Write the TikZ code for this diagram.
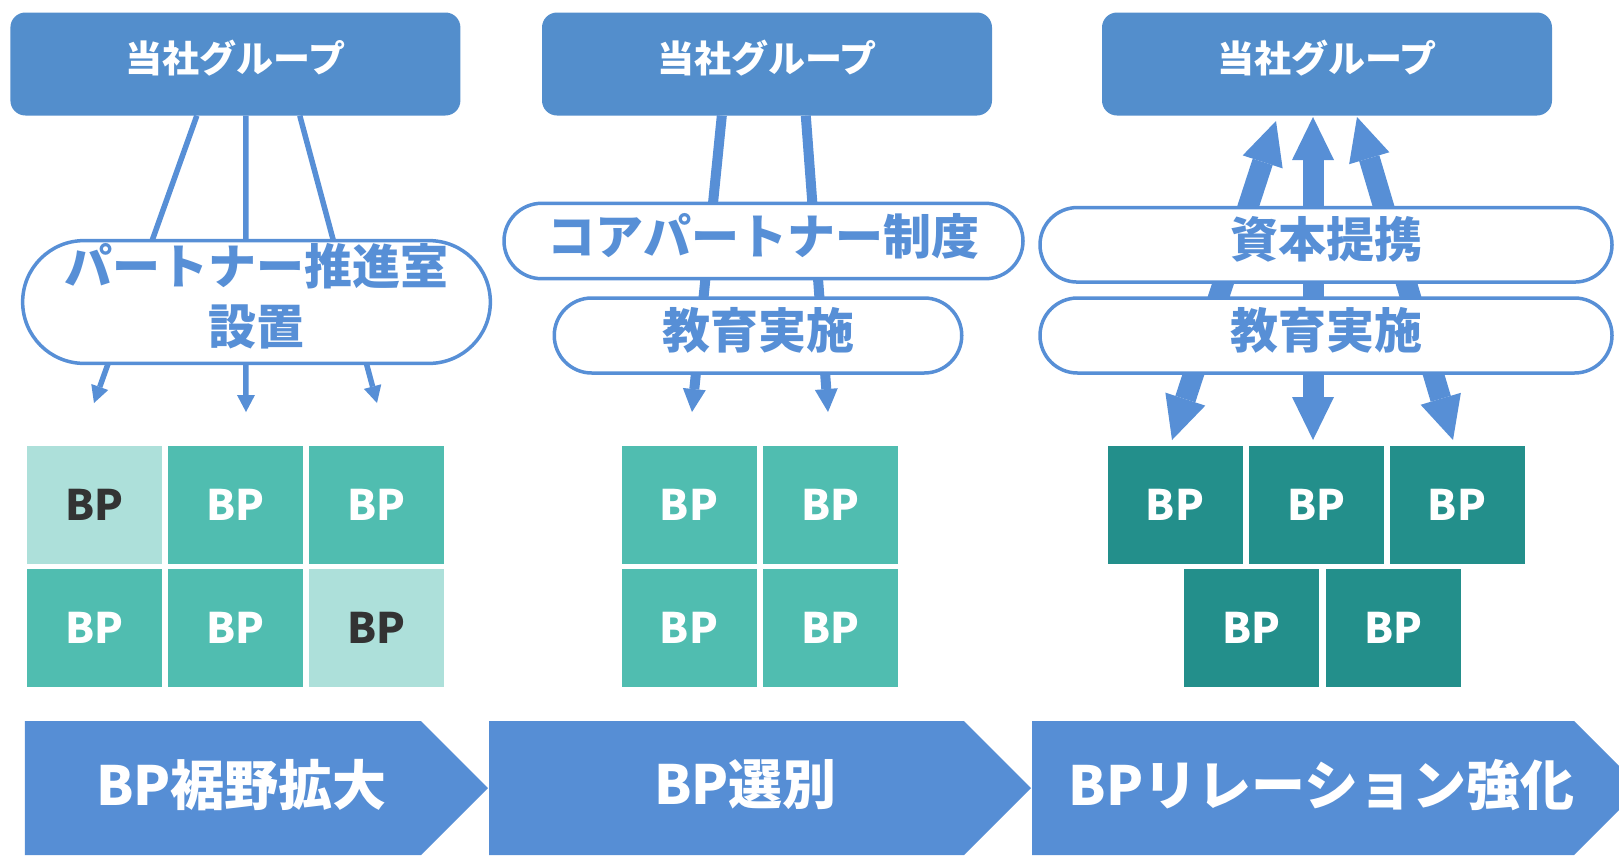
\documentclass[tikz,border=0pt]{standalone}
\usepackage{fontspec}
\setmainfont{Noto Sans CJK JP}
\usetikzlibrary{arrows.meta,shapes.misc,calc}
\definecolor{topblue}{RGB}{83,142,204}
\definecolor{lblue}{RGB}{87,143,214}
\definecolor{chev}{RGB}{86,142,213}
\definecolor{tealm}{RGB}{80,189,176}
\definecolor{teall}{RGB}{173,224,218}
\definecolor{teald}{RGB}{35,143,139}
\definecolor{dtext}{RGB}{51,51,51}
\begin{document}
\begin{tikzpicture}[x=1pt,y=-1pt,
  topbox/.style={fill=topblue, rounded corners=15pt, minimum width=450pt, minimum height=103pt, inner sep=0pt},
  toptext/.style={text=white, font=\fontsize{37}{44}\selectfont\bfseries, inner sep=0pt},
  stad/.style={rounded rectangle, draw=lblue, line width=3.5pt, fill=white, inner sep=0pt},
  stxt/.style={text=lblue, font=\fontsize{48}{60}\selectfont\bfseries, inner sep=0pt, align=center},
  bpbox/.style={minimum width=135pt, minimum height=118pt, inner sep=0pt, font=\fontsize{42}{50}\selectfont\bfseries, text=white},
  bpl/.style={bpbox, fill=teall, text=dtext},
  bpm/.style={bpbox, fill=tealm},
  bpd/.style={bpbox, fill=teald},
  thinarr/.style={draw=lblue, line width=5.5pt, -{Triangle[width=18pt,length=17pt,line width=0pt]}},
  midarr/.style={draw=lblue, line width=10pt, -{Triangle[width=23pt,length=23pt,line width=0pt]}},
  bigarr/.style={draw=lblue, line width=21pt, {Triangle[width=42pt,length=43pt,line width=0pt]}-{Triangle[width=42pt,length=43pt,line width=0pt]}},
  chevtext/.style={text=white, font=\fontsize{54}{64}\selectfont\bfseries, inner sep=0pt}
]
\useasboundingbox (0,0) rectangle (1619,855);
\clip (0,0) rectangle (1619,855);

% top boxes
\node[topbox] (g1) at (235.4,64) {};
\node[topbox] (g2) at (767,64) {};
\node[topbox] (g3) at (1327,64) {};
\node[toptext] (g1t) at ($(g1.center)+(0,-6)$) {当社グループ};
\node[toptext] (g2t) at ($(g2.center)+(0,-6)$) {当社グループ};
\node[toptext] (g3t) at ($(g3.center)+(0,-6)$) {当社グループ};

% column 1 connectors
\coordinate (c1a) at (94,403);
\coordinate (c1b) at (246,412);
\coordinate (c1c) at (377,403);
\draw[thinarr] ($(g1.south west)+(186.6,0)$) -- (c1a);
\draw[thinarr] ($(g1.south west)+(235.6,0)$) -- (c1b);
\draw[thinarr] ($(g1.south west)+(289.6,0)$) -- (c1c);

% column 2 connectors
\coordinate (c2a) at (692,412);
\coordinate (c2b) at (828,412);
\draw[midarr] ($(g2.south west)+(180,0)$) -- (c2a);
\draw[midarr] ($(g2.south west)+(264,0)$) -- (c2b);

% column 3 double arrows
\coordinate (d1t) at (1276,121);
\coordinate (d1b) at (1172,440);
\coordinate (d2t) at (1313,117);
\coordinate (d2b) at (1313,440);
\coordinate (d3t) at (1357,117);
\coordinate (d3b) at (1453,440);
\draw[bigarr] (d1t) -- (d1b);
\draw[bigarr] (d2t) -- (d2b);
\draw[bigarr] (d3t) -- (d3b);

% stadiums
\node[stad, minimum width=467.7pt, minimum height=122.8pt] (s1) at (256.5,302) {};
\node[stxt] (s1t) at ($(s1.center)+(0,-6)$) {パートナー推進室\\設置};
\node[stad, minimum width=519pt, minimum height=75.4pt] (s2a) at (763.5,241) {};
\node[stxt] (s2at) at ($(s2a.center)+(0,-5)$) {コアパートナー制度};
\node[stad, minimum width=407.5pt, minimum height=75pt] (s2b) at (758,335.5) {};
\node[stxt] (s2bt) at ($(s2b.center)+(0,-5)$) {教育実施};
\node[stad, minimum width=572pt, minimum height=74.5pt] (s3a) at (1326,244.8) {};
\node[stxt] (s3at) at ($(s3a.center)+(0,-5)$) {資本提携};
\node[stad, minimum width=572pt, minimum height=75pt] (s3b) at (1326,335.5) {};
\node[stxt] (s3bt) at ($(s3b.center)+(0,-5)$) {教育実施};

% BP boxes column 1
\node[bpl] (b11) at (94.4,505) {BP};
\node[bpm] (b12) at (235.8,505) {BP};
\node[bpm] (b13) at (376.5,505) {BP};
\node[bpm] (b14) at (94.4,628) {BP};
\node[bpm] (b15) at (235.8,628) {BP};
\node[bpl] (b16) at (376.5,628) {BP};
% column 2
\node[bpm] (b21) at (689,505) {BP};
\node[bpm] (b22) at (830.5,505) {BP};
\node[bpm] (b23) at (689,628) {BP};
\node[bpm] (b24) at (830.5,628) {BP};
% column 3
\node[bpd] (b31) at (1175,505) {BP};
\node[bpd] (b32) at (1316.5,505) {BP};
\node[bpd] (b33) at (1457,505) {BP};
\node[bpd] (b34) at (1251.5,628) {BP};
\node[bpd] (b35) at (1393.5,628) {BP};

% chevrons
\fill[chev] (24.8,721) -- (421,721) -- (488,788) -- (421,855) -- (24.8,855) -- cycle;
\fill[chev] (489,721) -- (964,721) -- (1031,788) -- (964,855) -- (489,855) -- cycle;
\fill[chev] (1032,721) -- (1574,721) -- (1641,788) -- (1574,855) -- (1032,855) -- cycle;
\node[chevtext] (p1) at (241.6,785) {BP裾野拡大};
\node[chevtext] (p2) at (745.5,785) {BP選別};
\node[chevtext] (p3) at (1321.6,785) {BPリレーション強化};
\end{tikzpicture}
\end{document}
